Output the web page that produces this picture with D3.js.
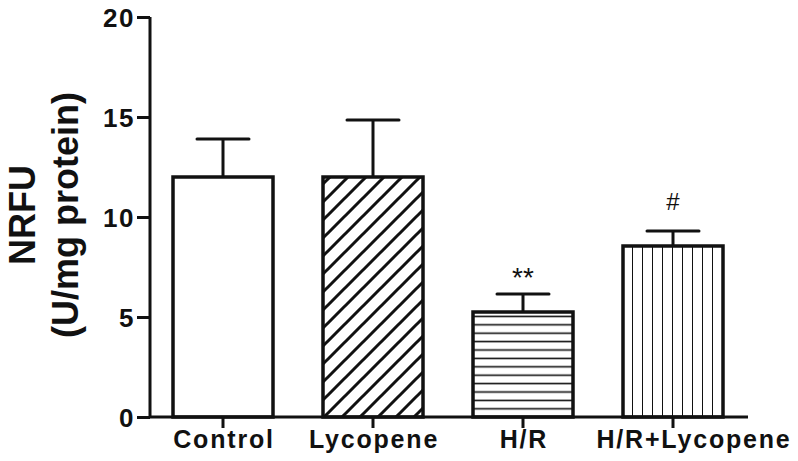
<!DOCTYPE html>
<html>
<head>
<meta charset="utf-8">
<script src="https://cdn.jsdelivr.net/npm/d3@7"></script>
<style>
  body { margin: 0; background: #fff; }
  svg text { font-family: "Liberation Sans", Arial, sans-serif; font-weight: bold; fill: #111; }
</style>
</head>
<body>
<div id="content"></div>
<script>

  var groups = ["Control", "Lycopene", "H/R", "H/R+Lycopene"];
  var means  = [12.0, 12.0, 5.25, 8.55];
  var errors = [1.9, 2.85, 0.9, 0.75];
  var marks  = ["", "", "**", "#"];
  var fills  = ["none", "diag", "horiz", "vert"];
  var yTicks = [0, 5, 10, 15, 20];

  var width = 798, height = 461;
  var margin = {left: 150, top: 17, right: 50, bottom: 44};

  // size and gap above the error cap for each significance mark
  var markStyle = {"**": {size: 28, gap: 7, weight: "normal"}, "#": {size: 24, gap: 21, weight: "normal"}};

  var svg = d3.select("#content").append("svg")
      .attr("width", width).attr("height", height);

  var y = d3.scaleLinear().domain([0, 20]).range([height - margin.bottom, margin.top]);
  var x = d3.scaleBand().domain(groups)
      .range([margin.left, 746])
      .paddingInner(1 / 3).paddingOuter(23 / 150);

  var defs = svg.append("defs");

  // hatch patterns
  var diag = defs.append("pattern").attr("id", "diag")
      .attr("patternUnits", "userSpaceOnUse").attr("width", 18).attr("height", 18)
      .attr("x", x("Lycopene") + 4);
  diag.append("path").attr("d", "M-4.5,4.5 l9,-9 M0,18 l18,-18 M13.5,22.5 l9,-9")
      .attr("stroke", "#111").attr("stroke-width", 3);

  var horiz = defs.append("pattern").attr("id", "horiz")
      .attr("patternUnits", "userSpaceOnUse").attr("width", 10).attr("height", 8.4)
      .attr("y", y(0) - 4);
  horiz.append("line").attr("x1", 0).attr("x2", 10).attr("y1", 4.2).attr("y2", 4.2)
      .attr("stroke", "#111").attr("stroke-width", 1.6);

  var vert = defs.append("pattern").attr("id", "vert")
      .attr("patternUnits", "userSpaceOnUse").attr("width", 10).attr("height", 10)
      .attr("x", x("H/R+Lycopene") - 1);
  vert.append("line").attr("x1", 0).attr("x2", 0).attr("y1", 0).attr("y2", 10)
      .attr("stroke", "#111").attr("stroke-width", 2);

  var data = groups.map(function(g, i) {
    return {name: g, mean: means[i], err: errors[i], mark: marks[i], fill: fills[i]};
  });

  var bar = svg.append("g").selectAll("g").data(data).enter().append("g");

  // error bars (drawn first so the bar top covers the stem start)
  bar.append("line")
      .attr("x1", function(d) { return x(d.name) + x.bandwidth() / 2; })
      .attr("x2", function(d) { return x(d.name) + x.bandwidth() / 2; })
      .attr("y1", function(d) { return y(d.mean); })
      .attr("y2", function(d) { return y(d.mean + d.err); })
      .attr("stroke", "#111").attr("stroke-width", 3);
  bar.append("line")
      .attr("x1", function(d) { return x(d.name) + x.bandwidth() / 2 - 26; })
      .attr("x2", function(d) { return x(d.name) + x.bandwidth() / 2 + 26; })
      .attr("y1", function(d) { return y(d.mean + d.err); })
      .attr("y2", function(d) { return y(d.mean + d.err); })
      .attr("stroke", "#111").attr("stroke-width", 3).attr("stroke-linecap", "round");

  bar.append("rect")
      .attr("x", function(d) { return x(d.name); })
      .attr("y", function(d) { return y(d.mean); })
      .attr("width", x.bandwidth())
      .attr("height", function(d) { return y(0) - y(d.mean); })
      .attr("fill", function(d) { return d.fill === "none" ? "#fff" : "url(#" + d.fill + ")"; })
      .attr("stroke", "#111").attr("stroke-width", 3.5);

  bar.filter(function(d) { return d.mark; }).append("text")
      .attr("x", function(d) { return x(d.name) + x.bandwidth() / 2; })
      .attr("y", function(d) { return y(d.mean + d.err) - markStyle[d.mark].gap; })
      .attr("text-anchor", "middle")
      .style("font-size", function(d) { return markStyle[d.mark].size + "px"; })
      .style("font-weight", function(d) { return markStyle[d.mark].weight; })
      .text(function(d) { return d.mark; });

  // y axis
  var yAxis = svg.append("g").attr("transform", "translate(" + margin.left + ",0)")
      .call(d3.axisLeft(y).tickValues(yTicks).tickSize(13).tickPadding(2));
  yAxis.select(".domain").attr("d", "M0," + y(20) + "V" + y(0)).attr("stroke-width", 3).attr("stroke", "#111");
  yAxis.selectAll(".tick line").attr("stroke-width", 3).attr("stroke", "#111");
  yAxis.selectAll(".tick text")
      .style("font-size", "26px").style("font-family", "Liberation Sans, Arial, sans-serif")
      .style("font-weight", "bold").style("letter-spacing", "1.5px")
      .attr("fill", "#111").attr("dy", "0.36em");

  // x axis
  var xAxis = svg.append("g").attr("transform", "translate(0," + y(0) + ")")
      .call(d3.axisBottom(x).tickSize(11).tickPadding(6));
  xAxis.select(".domain").attr("d", "M" + margin.left + ",0H" + 748).attr("stroke-width", 3).attr("stroke", "#111");
  xAxis.selectAll(".tick line").attr("stroke-width", 3).attr("stroke", "#111");
  xAxis.selectAll(".tick text")
      .style("font-size", "25px").style("font-family", "Liberation Sans, Arial, sans-serif")
      .style("font-weight", "bold").style("letter-spacing", "1.8px")
      .attr("fill", "#111").attr("y", 31).attr("dy", 0)
      .attr("dx", function(d) { return d === "H/R+Lycopene" ? 21 : 1; });

  // y title
  var title = svg.append("text")
      .attr("transform", "translate(0,215) rotate(-90)")
      .attr("text-anchor", "middle")
      .style("font-size", "36px");
  title.append("tspan").attr("x", 0).attr("y", 35).text("NRFU");
  title.append("tspan").attr("x", 0).attr("y", 78).text("(U/mg protein)");

</script>
</body>
</html>
